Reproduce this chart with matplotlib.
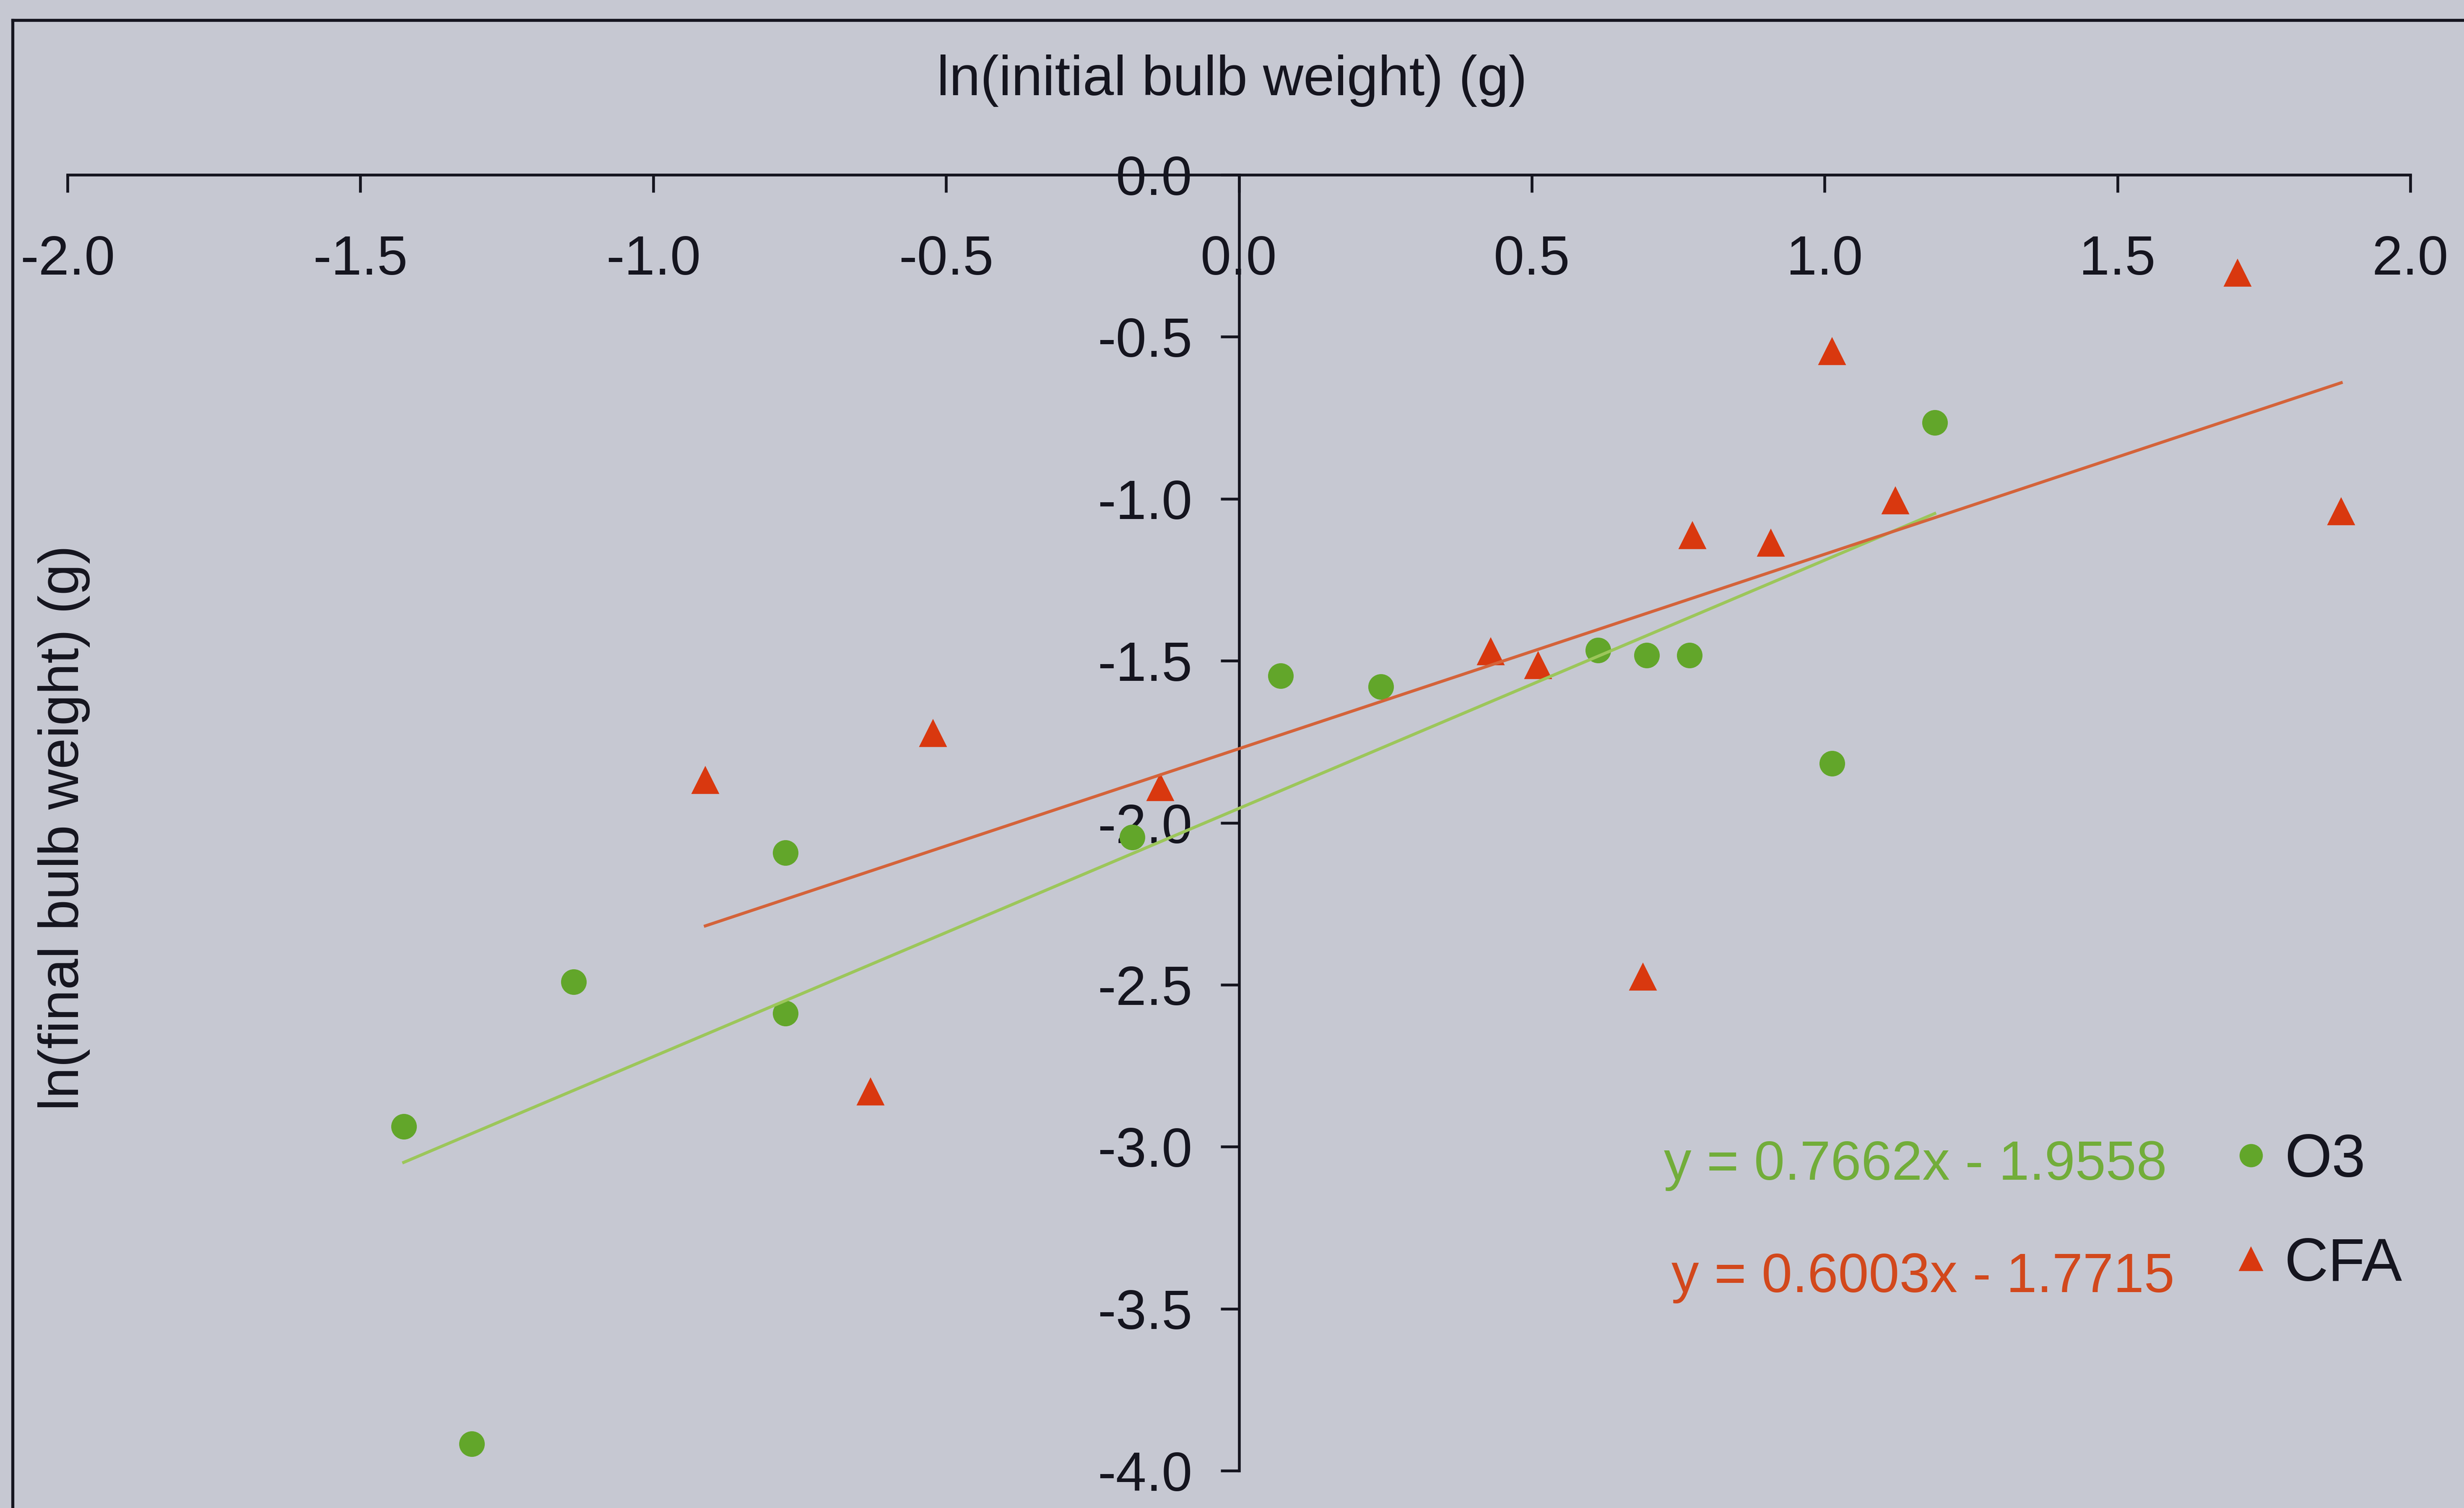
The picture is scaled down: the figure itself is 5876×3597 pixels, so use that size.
import matplotlib
matplotlib.use("Agg")
import matplotlib.pyplot as plt
from matplotlib.lines import Line2D
from matplotlib.ticker import FormatStrFormatter, MultipleLocator

plt.rcParams["font.family"] = ["Liberation Sans", "DejaVu Sans"]

# ln(initial) vs ln(final) bulb weight, two treatments
o3_x = [-1.426, -1.310, -1.136, -0.774, -0.774, -0.182, 0.071, 0.242,
        0.613, 0.696, 0.769, 1.013, 1.188]
o3_y = [-2.937, -3.917, -2.491, -2.093, -2.588, -2.045, -1.546, -1.580,
        -1.468, -1.483, -1.483, -1.817, -0.765]

cfa_x = [-0.911, -0.522, -0.629, -0.134, 0.430, 0.511, 0.690, 0.774,
         0.908, 1.013, 1.121, 1.705, 1.882]
cfa_y = [-1.870, -1.725, -2.831, -1.892, -1.473, -1.516, -2.477, -1.114,
         -1.138, -0.546, -1.007, -0.304, -1.041]

# linear trendlines (slope, intercept)
o3_fit = (0.7662, -1.9558)
cfa_fit = (0.6003, -1.7715)

BG = "#c6c8d2"
INK = "#15151f"
GREEN = "#62a62a"
GREEN_LINE = "#9cc65a"
GREEN_TXT = "#72ad3a"
RED = "#d9380f"
RED_LINE = "#d4633a"
RED_TXT = "#d2481c"

W, H = 5876, 3597
fig = plt.figure(figsize=(W / 400, H / 400), dpi=400, facecolor=BG)
ax = fig.add_axes([161 / W, 1 - 3508 / H, 5587 / W, 3091 / H])
ax.set_facecolor("none")

# frame around the chart area (runs off the right and bottom edges)
fig.add_artist(Line2D([30 / W, 30 / W], [0, 1 - 48 / H], color=INK, lw=1.3,
                      transform=fig.transFigure))
fig.add_artist(Line2D([30 / W, 1], [1 - 48 / H, 1 - 48 / H], color=INK, lw=1.3,
                      transform=fig.transFigure))


def trend(xs, fit):
    lo, hi = min(xs), max(xs)
    return [lo, hi], [fit[0] * lo + fit[1], fit[0] * hi + fit[1]]


ax.plot(o3_x, o3_y, ls="none", marker="o", ms=10, color=GREEN, zorder=2)
ax.plot(cfa_x, cfa_y, ls="none", marker="^", ms=10.5, color=RED, zorder=2)

lx, ly = trend(o3_x, o3_fit)
ax.plot(lx, ly, color=GREEN_LINE, lw=1.3, zorder=2.1)
lx, ly = trend(cfa_x, cfa_fit)
ax.plot(lx, ly, color=RED_LINE, lw=1.3, zorder=2.1)

ax.set_xlim(-2.0, 2.0)
ax.set_ylim(-4.0, 0.0)

# axes cross at the origin
for s in ("right", "top"):
    ax.spines[s].set_visible(False)
ax.spines["bottom"].set_position(("data", 0))
ax.spines["left"].set_position(("data", 0))
for s in ("bottom", "left"):
    ax.spines[s].set_color(INK)
    ax.spines[s].set_linewidth(1.2)
    ax.spines[s].set_zorder(1.5)

ax.xaxis.set_major_locator(MultipleLocator(0.5))
ax.yaxis.set_major_locator(MultipleLocator(0.5))
ax.xaxis.set_major_formatter(FormatStrFormatter("%.1f"))
ax.yaxis.set_major_formatter(FormatStrFormatter("%.1f"))
ax.tick_params(axis="x", direction="out", length=7.5, width=1.2, pad=18,
               labelsize=23.6, colors=INK)
ax.tick_params(axis="y", direction="out", length=8, width=1.2, pad=12,
               labelsize=23.6, colors=INK)

ax.set_xlabel("ln(initial bulb weight) (g)", fontsize=24, color=INK)
ax.xaxis.set_label_position("top")
ax.xaxis.set_label_coords(0.497, 1.0615)
ax.set_ylabel("ln(final bulb weight) (g)", fontsize=24, color=INK)
ax.yaxis.set_label_coords(-0.0015, 0.496)
ax.yaxis.label.set_va("center")

# trendline equations
ax.text(0.8962, 0.2245, f"y = {o3_fit[0]:.4f}x - {abs(o3_fit[1]):.4f}",
        transform=ax.transAxes, ha="right", va="baseline", fontsize=23.6,
        color=GREEN_TXT)
ax.text(0.8994, 0.1378, f"y = {cfa_fit[0]:.4f}x - {abs(cfa_fit[1]):.4f}",
        transform=ax.transAxes, ha="right", va="baseline", fontsize=23.6,
        color=RED_TXT)

handles = [
    Line2D([], [], ls="none", marker="o", ms=9, color=GREEN, label="O3"),
    Line2D([], [], ls="none", marker="^", ms=9, color=RED, label="CFA"),
]
ax.legend(handles=handles, loc="upper left", bbox_to_anchor=(0.9243, 0.2608),
          frameon=False, fontsize=26, borderpad=0, borderaxespad=0,
          handlelength=0.6, handletextpad=0.25, labelspacing=0.78,
          labelcolor=INK)

fig.savefig("out.png", dpi=400, facecolor=BG)
